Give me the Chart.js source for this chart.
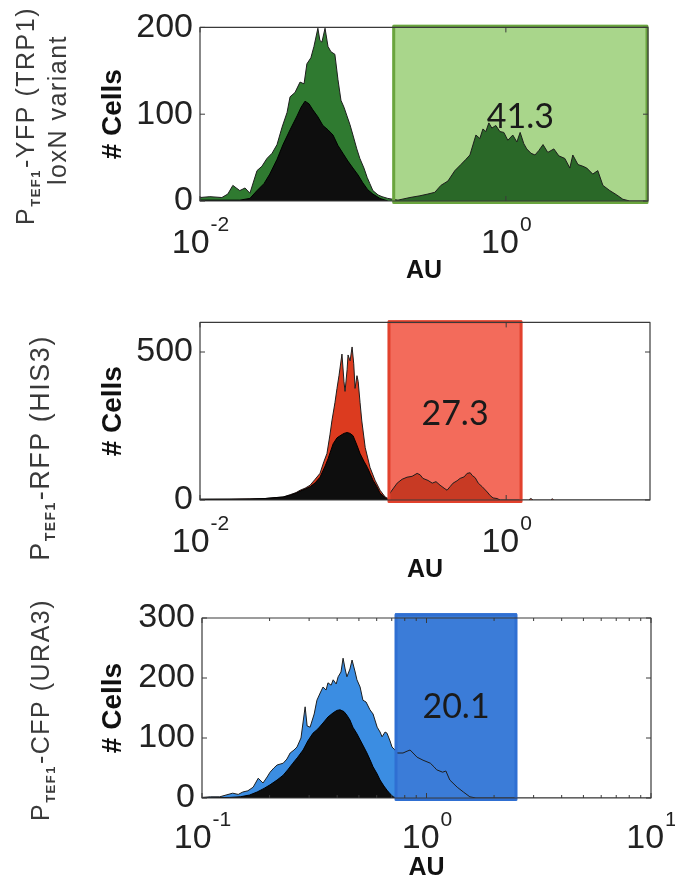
<!DOCTYPE html>
<html><head><meta charset="utf-8">
<script src="https://cdn.jsdelivr.net/npm/chart.js@4.4.1/dist/chart.umd.min.js"></script>
<style>
html,body{margin:0;padding:0;background:#fff;}
#wrap{position:relative;width:675px;height:883px;overflow:hidden;background:#fff;}
#wrap canvas{position:absolute;left:0;}
</style></head><body>
<div id="wrap">
<canvas id="c1" width="675" height="295" style="top:0px"></canvas>
<canvas id="c2" width="675" height="293" style="top:295px"></canvas>
<canvas id="c3" width="675" height="295" style="top:588px"></canvas>
</div>
<script>
// ---------------- DATA ----------------
// Panel 1: PTEF1-YFP (TRP1) loxN variant
const p1GreenX = [0.0100,0.0116,0.0139,0.0152,0.0164,0.0182,0.0197,0.0212,0.0236,0.0254,0.0274,0.0296,0.0319,0.0344,0.0371,0.0388,0.0418,0.0451,0.0479,0.0500,0.0531,0.0556,0.0590,0.0608,0.0627,0.0657,0.0687,0.0718,0.0762,0.0798,0.0835,0.0874,0.0914,0.0956,0.100,0.106,0.111,0.118,0.124,0.129,0.135,0.146,0.155,0.169,0.182,0.197,0.236,0.274,0.309,0.343,0.376,0.418,0.464,0.508,0.548,0.582,0.637,0.676,0.708,0.740,0.774,0.810,0.860,0.914,0.970,1.03,1.11,1.18,1.24,1.31,1.37,1.46,1.55,1.64,1.75,1.88,2.06,2.22,2.43,2.62,2.74,2.96,3.19,3.38,3.70,3.99,4.31,4.78,5.31,5.82,6.46,8.5];
const p1GreenY = [4,5,4,8,18,12,15,9,35,40,49,55,65,85,102,120,125,137,135,158,165,178,199,185,183,199,178,172,169,140,116,108,98,88,76,60,49,38,27,20,12,7,5,3,2,1,4,6,8,10,18,23,35,42,48,53,76,72,83,80,90,84,87,80,79,70,76,68,79,66,60,55,53,58,65,56,60,52,49,38,53,42,40,38,31,35,18,12,7,2,0,0];
const p1BlackX = [0.0100,0.0182,0.0212,0.0236,0.0262,0.0286,0.0319,0.0349,0.0388,0.0431,0.0458,0.0486,0.0516,0.0547,0.0590,0.0636,0.0687,0.0741,0.0798,0.0860,0.0927,0.100,0.108,0.116,0.125,0.135,0.150,0.169];
const p1BlackY = [1,1,3,12,20,31,48,65,82,98,108,115,112,105,97,87,82,76,64,55,46,38,30,21,13,8,3,0];
const p1XTicks = [0.01, 1];
const p1XTickLabels = ['10^-2', '10^0'];
const p1YTicks = [0, 100, 200];

// Panel 2: PTEF1-RFP (HIS3)
const p2RedX = [0.0100,0.0157,0.0212,0.0266,0.0309,0.0349,0.0388,0.0424,0.0451,0.0486,0.0524,0.0565,0.0608,0.0645,0.0675,0.0706,0.0727,0.0762,0.0785,0.0809,0.0846,0.0872,0.0886,0.0914,0.0927,0.0956,0.0985,0.101,0.103,0.106,0.108,0.111,0.114,0.120,0.129,0.139,0.150,0.162,0.169,0.174,0.194,0.209,0.225,0.243,0.262,0.274,0.286,0.309,0.329,0.348,0.370,0.393,0.411,0.430,0.450,0.478,0.500,0.531,0.556,0.582,0.600,0.628,0.657,0.697,0.752,0.786,0.821,0.871,0.914,1.40,1.45,1.50,1.95,2.0,2.05,8.7];
const p2RedY = [3,3,4,5,8,10,18,25,33,40,50,70,90,130,157,220,267,330,377,420,493,400,367,440,490,470,517,460,377,420,400,330,267,177,110,67,33,10,5,23,57,70,77,80,90,85,73,66,57,62,50,40,33,45,57,65,73,78,90,92,83,75,57,45,27,15,7,5,0,0,5,0,0,4,0,0];
const p2BlackX = [0.0100,0.0212,0.0266,0.0309,0.0349,0.0388,0.0424,0.0451,0.0486,0.0524,0.0565,0.0608,0.0657,0.0687,0.0741,0.0785,0.0822,0.0872,0.0914,0.0956,0.100,0.106,0.111,0.118,0.124,0.129,0.135,0.143,0.150,0.162,0.169];
const p2BlackY = [2,3,5,8,10,16,23,30,37,45,58,77,115,140,190,210,217,225,228,225,217,185,157,130,110,90,67,45,23,8,0];
const p2XTicks = [0.01, 1];
const p2XTickLabels = ['10^-2', '10^0'];
const p2YTicks = [0, 500];

// Panel 3: PTEF1-CFP (URA3)
const p3BlueX = [0.100,0.109,0.120,0.128,0.137,0.145,0.152,0.160,0.169,0.178,0.187,0.195,0.201,0.209,0.216,0.230,0.239,0.247,0.257,0.265,0.276,0.288,0.294,0.303,0.316,0.325,0.336,0.346,0.357,0.364,0.376,0.384,0.396,0.404,0.416,0.425,0.434,0.442,0.456,0.466,0.481,0.490,0.506,0.521,0.538,0.560,0.578,0.603,0.621,0.634,0.654,0.667,0.688,0.702,0.724,0.739,0.786,0.819,0.845,0.871,0.908,0.965,1.04,1.08,1.11,1.18,1.22,1.27,1.37,1.46,1.56,1.66,10];
const p3BlueY = [1,2,2,5,8,6,10,12,18,33,25,35,43,50,55,58,65,75,80,85,100,152,120,118,140,163,175,185,180,192,188,197,190,202,210,233,215,202,215,230,210,197,185,163,160,147,140,118,110,102,110,108,95,85,80,75,75,78,80,75,68,63,58,52,47,43,45,30,18,10,2,0,0];
const p3BlackX = [0.100,0.133,0.148,0.163,0.176,0.189,0.201,0.216,0.230,0.241,0.254,0.267,0.282,0.296,0.312,0.328,0.346,0.364,0.384,0.399,0.412,0.429,0.442,0.456,0.470,0.490,0.506,0.526,0.543,0.560,0.578,0.603,0.621,0.646,0.667,0.688,0.710,0.739];
const p3BlackY = [0,1,2,5,10,16,22,30,38,47,58,68,80,95,108,115,125,135,142,146,147,144,138,130,118,107,97,85,75,64,52,40,30,20,13,7,2,0];
const p3XTicks = [0.1, 1, 10];
const p3XTickLabels = ['10^-1', '10^0', '10^1'];
const p3XMinorTicks = [0.2,0.3,0.4,0.5,0.6,0.7,0.8,0.9,2,3,4,5,6,7,8,9];
const p3YTicks = [0, 100, 200, 300];

// Gates (AU range), gate height (cells) and % of cells in gate
const gateLow = [0.182, 0.169, 0.724];
const gateHigh = [8.5, 1.27, 2.53];
const gateTop = [203, 607, 308];
const gatePercent = ['41.3', '27.3', '20.1'];

// Axis ranges
const xMins = [0.01, 0.01, 0.1];
const xMaxs = [8.5, 8.7, 10];
const yMaxs = [200, 600, 300];

// Row labels
const rowLabelPre = ['P', 'P', 'P'];
const rowLabelSub = ['TEF1', 'TEF1', 'TEF1'];
const rowLabelPost = ['-YFP (TRP1)', '-RFP (HIS3)', '-CFP (URA3)'];
const rowLabelLine2 = ['loxN variant', '', ''];
const xTitle = 'AU';
const yTitle = '# Cells';

// ---------------- RENDER ----------------
const F = "'Liberation Sans', Arial, sans-serif";
Chart.defaults.font.family = F;

function pts(xs, ys) {
  const n = Math.min(xs.length, ys.length), r = [];
  for (let i = 0; i < n; i++) r.push({x: xs[i], y: ys[i]});
  return r;
}

const decor = {
  id: 'panelDecor',
  beforeDatasetsDraw(chart, args, o) {
    const {ctx, scales: {x, y}} = chart;
    const x0 = x.getPixelForValue(o.gLow), x1 = x.getPixelForValue(o.gHigh);
    const yt = y.getPixelForValue(o.gTop), yb = y.getPixelForValue(0);
    ctx.save();
    ctx.fillStyle = o.gateFill;
    ctx.fillRect(x0, yt, x1 - x0, yb - yt);
    ctx.restore();
  },
  afterDraw(chart, args, o) {
    const {ctx, chartArea: a, scales: {x, y}} = chart;
    ctx.save();
    // gate border
    const x0 = x.getPixelForValue(o.gLow), x1 = x.getPixelForValue(o.gHigh);
    const yt = y.getPixelForValue(o.gTop), yb = y.getPixelForValue(0);
    ctx.strokeStyle = o.gateEdge; ctx.lineWidth = 3; ctx.lineJoin = 'round';
    ctx.strokeRect(x0 + 1, yt + 1.5, x1 - x0 - 2, yb - yt);
    // percentage
    ctx.fillStyle = '#1a1a1a';
    ctx.font = "34px Lato, 'Open Sans', sans-serif";
    ctx.textAlign = 'center'; ctx.textBaseline = 'alphabetic';
    const cy = (a.top + a.bottom) / 2 + o.pctDy;
    ctx.fillText(o.pct, (x0 + x1) / 2, cy + 12);
    // frame
    ctx.strokeStyle = '#3a3a3a'; ctx.lineWidth = 1.2;
    ctx.strokeRect(a.left, a.top, a.right - a.left, a.bottom - a.top);
    // ticks
    ctx.lineWidth = 1;
    ctx.beginPath();
    o.xTicks.forEach(v => { const p = x.getPixelForValue(v);
      ctx.moveTo(p, a.bottom); ctx.lineTo(p, a.bottom - 5);
      ctx.moveTo(p, a.top); ctx.lineTo(p, a.top + 5); });
    o.xMinor.forEach(v => { const p = x.getPixelForValue(v);
      ctx.moveTo(p, a.bottom); ctx.lineTo(p, a.bottom - 3);
      ctx.moveTo(p, a.top); ctx.lineTo(p, a.top + 3); });
    o.yTicks.forEach(v => { const p = y.getPixelForValue(v);
      ctx.moveTo(a.left, p); ctx.lineTo(a.left + 5, p);
      ctx.moveTo(a.right, p); ctx.lineTo(a.right - 5, p); });
    ctx.stroke();
    // x tick labels with superscript exponent
    ctx.fillStyle = '#222'; ctx.textAlign = 'left';
    o.xTicks.forEach((v, i) => {
      const parts = o.xLabels[i].split('^');
      const p = x.getPixelForValue(v);
      ctx.font = '34px ' + F; const wb = ctx.measureText(parts[0]).width;
      ctx.font = '21px ' + F; const ws = ctx.measureText(parts[1]).width;
      const sx = p - (wb + ws) / 2;
      ctx.font = '34px ' + F; ctx.fillText(parts[0], sx, a.bottom + o.baseDy);
      ctx.font = '21px ' + F; ctx.fillText(parts[1], sx + wb + 1, a.bottom + o.baseDy - 22);
    });
    // rotated row label(s)
    const drawRot = (cx, cyc, size, pre, sub, post) => {
      ctx.save();
      ctx.translate(cx, cyc); ctx.rotate(-Math.PI / 2);
      ctx.fillStyle = '#3a3a3a'; ctx.textAlign = 'left'; ctx.textBaseline = 'alphabetic';
      ctx.letterSpacing = '1.5px';
      ctx.font = size + 'px ' + F; const w1 = ctx.measureText(pre).width, w3 = ctx.measureText(post).width;
      const ss = Math.round(size * 0.52);
      ctx.font = 'bold ' + ss + 'px ' + F; const w2 = sub ? ctx.measureText(sub).width + 1 : 0;
      let sx = -(w1 + w2 + w3) / 2;
      const bl = size * 0.36;
      ctx.font = size + 'px ' + F; ctx.fillText(pre, sx, bl); sx += w1;
      if (sub) { ctx.font = 'bold ' + ss + 'px ' + F; ctx.fillText(sub, sx, bl + 6); sx += w2; }
      ctx.font = size + 'px ' + F; ctx.fillText(post, sx, bl);
      ctx.restore();
    };
    drawRot(o.lx1, o.ly1, o.lSize, o.pre, o.sub, o.post);
    if (o.line2) drawRot(o.lx2, o.ly2, o.lSize, o.line2, '', '');
    ctx.restore();
  }
};

const colours = [
  {hist: '#2f7a30', histIn: '#2a6828', gateFill: '#a9d68b', gateEdge: '#6aa43e'},
  {hist: '#dc3b1f', histIn: '#c83a24', gateFill: '#f36b5b', gateEdge: '#e2412d'},
  {hist: '#3b8de2', histIn: '#3b7cd8', gateFill: '#3b7cd8', gateEdge: '#2f6fd2'}
];
const layoutStyle = [
  {padTop: 22, padRight: 27, axisLeft: 200, xAxisH: 94, auPad: 9, lSize: 25, lx1: 25, ly1: 116, lx2: 57, ly2: 110, pctDy: 2,  baseDy: 52},
  {padTop: 26, padRight: 25, axisLeft: 200, xAxisH: 88, auPad: 3, lSize: 27, lx1: 39, ly1: 153, lx2: 0, ly2: 0,   pctDy: 2,  baseDy: 52},
  {padTop: 30, padRight: 24, axisLeft: 202, xAxisH: 85, auPad: 0, lSize: 25, lx1: 40, ly1: 122, lx2: 0, ly2: 0,   pctDy: -2, baseDy: 50}
];
const series = [
  {col: pts(p1GreenX, p1GreenY), blk: pts(p1BlackX, p1BlackY), xt: p1XTicks, xl: p1XTickLabels, xm: [], yt: p1YTicks},
  {col: pts(p2RedX, p2RedY), blk: pts(p2BlackX, p2BlackY), xt: p2XTicks, xl: p2XTickLabels, xm: [], yt: p2YTicks},
  {col: pts(p3BlueX, p3BlueY), blk: pts(p3BlackX, p3BlackY), xt: p3XTicks, xl: p3XTickLabels, xm: p3XMinorTicks, yt: p3YTicks}
];

['c1', 'c2', 'c3'].forEach((id, i) => {
  const s = series[i], L = layoutStyle[i], C = colours[i];
  new Chart(document.getElementById(id), {
    type: 'scatter',
    data: {datasets: [
      {label: 'control', data: s.blk, showLine: true, fill: 'origin', tension: 0, pointRadius: 0,
       backgroundColor: '#0e0e0e', borderColor: '#000', borderWidth: 1, order: 0},
      {label: rowLabelPost[i], data: s.col, showLine: true, fill: 'origin', tension: 0, pointRadius: 0,
       backgroundColor: C.hist, borderColor: '#1e1e1e', borderWidth: 1, order: 1,
       segment: {backgroundColor: c => (c.p0.parsed.x >= gateLow[i] * 0.999 && c.p1.parsed.x <= gateHigh[i] * 1.001) ? C.histIn : undefined}}
    ]},
    options: {
      responsive: false, animation: false, events: [],
      layout: {padding: {top: L.padTop, right: L.padRight, left: 0, bottom: 0}},
      plugins: {
        legend: {display: false}, tooltip: {enabled: false},
        panelDecor: {
          gLow: gateLow[i], gHigh: gateHigh[i], gTop: gateTop[i], pct: gatePercent[i],
          gateFill: C.gateFill, gateEdge: C.gateEdge, pctDy: L.pctDy, baseDy: L.baseDy,
          xTicks: s.xt, xLabels: s.xl, xMinor: s.xm, yTicks: s.yt,
          pre: rowLabelPre[i], sub: rowLabelSub[i], post: rowLabelPost[i], line2: rowLabelLine2[i],
          lSize: L.lSize, lx1: L.lx1, ly1: L.ly1, lx2: L.lx2, ly2: L.ly2
        }
      },
      scales: {
        x: {
          type: 'logarithmic', min: xMins[i], max: xMaxs[i],
          grid: {display: false, drawTicks: false}, border: {display: false},
          ticks: {display: false},
          afterBuildTicks: sc => { sc.ticks = s.xt.map(v => ({value: v})); },
          afterFit: sc => { sc.height = L.xAxisH; },
          title: {display: true, text: xTitle, color: '#111', font: {family: F, size: 25, weight: 'bold'}, padding: {top: 0, bottom: L.auPad}}
        },
        y: {
          min: 0, max: yMaxs[i],
          grid: {display: false, drawTicks: false}, border: {display: false},
          ticks: {padding: 7, color: '#222', font: {family: F, size: 34}},
          afterBuildTicks: sc => { sc.ticks = s.yt.map(v => ({value: v})); },
          afterFit: sc => { sc.width = L.axisLeft; },
          title: {display: true, text: yTitle, color: '#111', font: {family: F, size: 28, weight: 'bold'}, padding: {top: 96, bottom: 0}}
        }
      }
    },
    plugins: [decor]
  });
});
</script>
</body></html>
